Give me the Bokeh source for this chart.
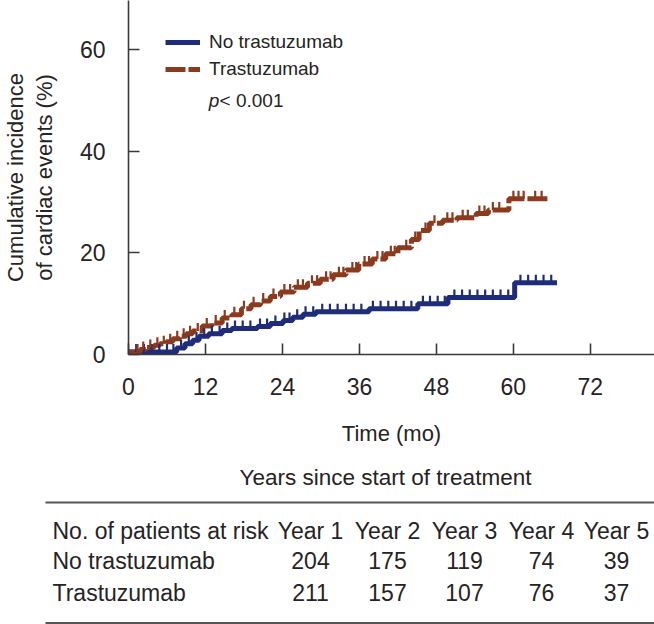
import numpy as np
from bokeh.plotting import figure
from bokeh.layouts import column
from bokeh.models import Range1d, FixedTicker, Legend, LegendItem, Label
from bokeh.core.properties import value
from bokeh.embed import file_html
from bokeh.resources import INLINE

# ---------------- data ----------------
# step curves: event times (months) and cumulative incidence (%) after each step
no_tras_t = [0, 7.5, 8.8, 10.0, 11.0, 12.5, 14.6, 16.1, 20.1, 22.1, 24.1, 25.6, 27.2,
             29.2, 37.5, 45.1, 49.8, 60.2]
no_tras_y = [0.5, 1.3, 2.1, 2.8, 3.6, 4.1, 4.7, 5.1, 5.5, 6.1, 6.7, 7.3, 7.9,
             8.4, 9.0, 10.0, 11.2, 14.1]
no_tras_end = 66.8

tras_t = [0, 1.8, 2.7, 4.0, 4.9, 5.9, 6.9, 8.0, 9.0, 10.0, 11.5, 13.0, 14.6, 16.1,
          17.6, 19.1, 20.6, 22.1, 23.7, 25.8, 27.9, 29.9, 31.9, 33.9, 35.9, 38.0,
          40.1, 42.0, 44.1, 45.3, 46.9, 49.0, 51.2, 54.2, 56.1, 59.3]
tras_y = [0.5, 1.0, 1.4, 1.8, 2.1, 2.5, 3.1, 3.6, 4.1, 4.6, 5.6, 6.2, 7.2, 7.8,
          9.0, 9.8, 10.5, 11.4, 12.3, 13.2, 14.0, 14.8, 15.7, 16.6, 17.8, 18.8,
          19.8, 21.0, 22.6, 24.4, 25.8, 26.4, 26.9, 27.7, 28.4, 30.6]
tras_end = 65.7

# censoring times (months)
no_tras_cens = [1.2, 2.4, 3.6, 4.8, 6.0, 7.0, 8.2, 9.4, 10.6, 11.8, 13.0, 14.2, 15.4,
                16.6, 17.8, 19.0, 20.5, 21.6, 22.9, 24.3, 25.1, 26.3, 27.6, 28.8,
                30.2, 31.4, 32.6, 33.9, 35.1, 36.3, 38.1, 39.3, 40.5, 41.7, 42.9,
                44.1, 45.9, 47.0, 48.2, 49.3, 50.8, 52.0, 53.2, 54.4, 55.6, 56.8,
                58.0, 59.2, 61.1, 62.3, 63.5, 64.7, 65.9]
tras_cens = [1.4, 2.3, 3.4, 4.5, 5.5, 6.5, 7.6, 8.6, 9.6, 10.8, 12.2, 13.6, 15.0,
             16.5, 18.0, 19.5, 21.0, 22.6, 24.3, 25.2, 26.4, 27.2, 28.6, 29.4,
             30.8, 31.5, 32.8, 33.5, 34.9, 35.5, 36.8, 37.5, 38.8, 39.6, 40.9,
             41.5, 43.3, 44.7, 46.3, 47.7, 49.7, 50.5, 52.1, 52.9, 54.7, 55.5,
             56.8, 57.8, 60.0, 60.8, 61.6, 63.4, 64.4]

x_ticks = [0, 12, 24, 36, 48, 60, 72]
y_ticks = [0, 20, 40, 60]

series_names = ["No trastuzumab", "Trastuzumab"]
table_title = "Years since start of treatment"
row_header = "No. of patients at risk"
year_labels = ["Year 1", "Year 2", "Year 3", "Year 4", "Year 5"]
at_risk_no_tras = [204, 175, 119, 74, 39]
at_risk_tras = [211, 157, 107, 76, 37]

# ---------------- styles ----------------
FONT = "Liberation Sans"
TXT = "#262324"
BLUE = "#1f2c7a"
BROWN = "#8b3a1d"


def level_at(ts, ys, cs):
    idx = np.searchsorted(np.asarray(ts), np.asarray(cs), side="right") - 1
    return list(np.asarray(ys)[idx])


p = figure(width=654, height=450, x_range=Range1d(0, 82.0), y_range=Range1d(0, 69.6),
           output_backend="svg", toolbar_location=None,
           min_border_left=118, min_border_right=0, min_border_top=0, min_border_bottom=96)
p.frame_align = False
p.grid.visible = False
p.outline_line_color = None
p.background_fill_color = "white"
p.border_fill_color = "white"

for ax in (p.xaxis[0], p.yaxis[0]):
    ax.axis_line_color = "#3a3a3a"
    ax.axis_line_width = 1.6
    ax.major_tick_line_color = "#3a3a3a"
    ax.major_tick_line_width = 1.6
    ax.major_tick_in = 11
    ax.major_tick_out = 0
    ax.minor_tick_line_color = None
    ax.major_label_text_font = FONT
    ax.major_label_text_font_size = "23px"
    ax.major_label_text_color = TXT
    ax.axis_label_text_font = FONT
    ax.axis_label_text_font_size = "22px"
    ax.axis_label_text_font_style = "normal"
    ax.axis_label_text_color = TXT

p.xaxis.ticker = FixedTicker(ticks=x_ticks)
p.yaxis.ticker = FixedTicker(ticks=y_ticks)
p.xaxis.major_label_standoff = 23
p.yaxis.major_label_standoff = 23
p.xaxis.axis_label = "Time (mo)"
p.xaxis.axis_label_standoff = 23
p.yaxis.axis_label = "Cumulative incidence\nof cardiac events (%)"
p.yaxis.axis_label_standoff = 20
p.yaxis.axis_label_text_line_height = 1.15

# curves
r_blue = p.step(no_tras_t + [no_tras_end], no_tras_y + [no_tras_y[-1]], mode="after",
                line_color=BLUE, line_width=5)
r_brown = p.step(tras_t + [tras_end], tras_y + [tras_y[-1]], mode="after",
                 line_color=BROWN, line_width=5, line_dash="20 3")

# censor marks
p.ray(no_tras_cens, level_at(no_tras_t, no_tras_y, no_tras_cens), length=8,
      length_units="screen", angle=np.pi / 2, line_color=BLUE, line_width=2.2)
p.ray(tras_cens, level_at(tras_t, tras_y, tras_cens), length=8,
      length_units="screen", angle=np.pi / 2, line_color=BROWN, line_width=2.2)

legend = Legend(items=[LegendItem(label=series_names[0], renderers=[r_blue]),
                       LegendItem(label=series_names[1], renderers=[r_brown])],
                location=(37, 274), padding=0, margin=0, spacing=5,
                glyph_width=35, glyph_height=22, label_height=22, label_standoff=9,
                label_text_font=FONT, label_text_font_size="19px", label_text_color=TXT,
                border_line_alpha=0, background_fill_alpha=0)
p.add_layout(legend)

p.add_layout(Label(x=12.5, y=49.9, text="p", text_font=FONT, text_font_size="19px",
                   text_font_style="italic", text_color=TXT, text_baseline="middle"))
p.add_layout(Label(x=14.2, y=49.9, text="< 0.001", text_font=FONT, text_font_size="19px",
                   text_color=TXT, text_baseline="middle"))

# ---------------- at-risk table ----------------
t = figure(width=654, height=174, x_range=Range1d(0, 654), y_range=Range1d(624, 450),
           output_backend="svg", toolbar_location=None, min_border=0,
           x_axis_location=None, y_axis_location=None)
t.frame_align = False
t.grid.visible = False
t.outline_line_color = None
t.border_fill_color = "white"

col_x = [310, 387, 464, 541, 616]
row_y = [530, 560, 592]
rule_y = [502, 622.5]

t.text(x=[385], y=[477], text=[table_title], text_font=value(FONT),
       text_font_size="22.5px", text_color=TXT, text_align="center", text_baseline="middle")
t.segment(x0=[45] * 2, y0=rule_y, x1=[654] * 2, y1=rule_y,
          line_color="#555555", line_width=2)
t.text(x=[52] * 3, y=row_y, text=[row_header] + series_names,
       text_font=value(FONT), text_font_size="23px", text_color=TXT,
       text_align="left", text_baseline="middle")
for ry, labels in zip(row_y, [year_labels,
                              [str(v) for v in at_risk_no_tras],
                              [str(v) for v in at_risk_tras]]):
    t.text(x=col_x, y=[ry] * len(col_x), text=labels, text_font=value(FONT),
           text_font_size="23px", text_color=TXT, text_align="center",
           text_baseline="middle")

layout = column(p, t, spacing=0)
open("out.html", "w").write(file_html(layout, INLINE))
